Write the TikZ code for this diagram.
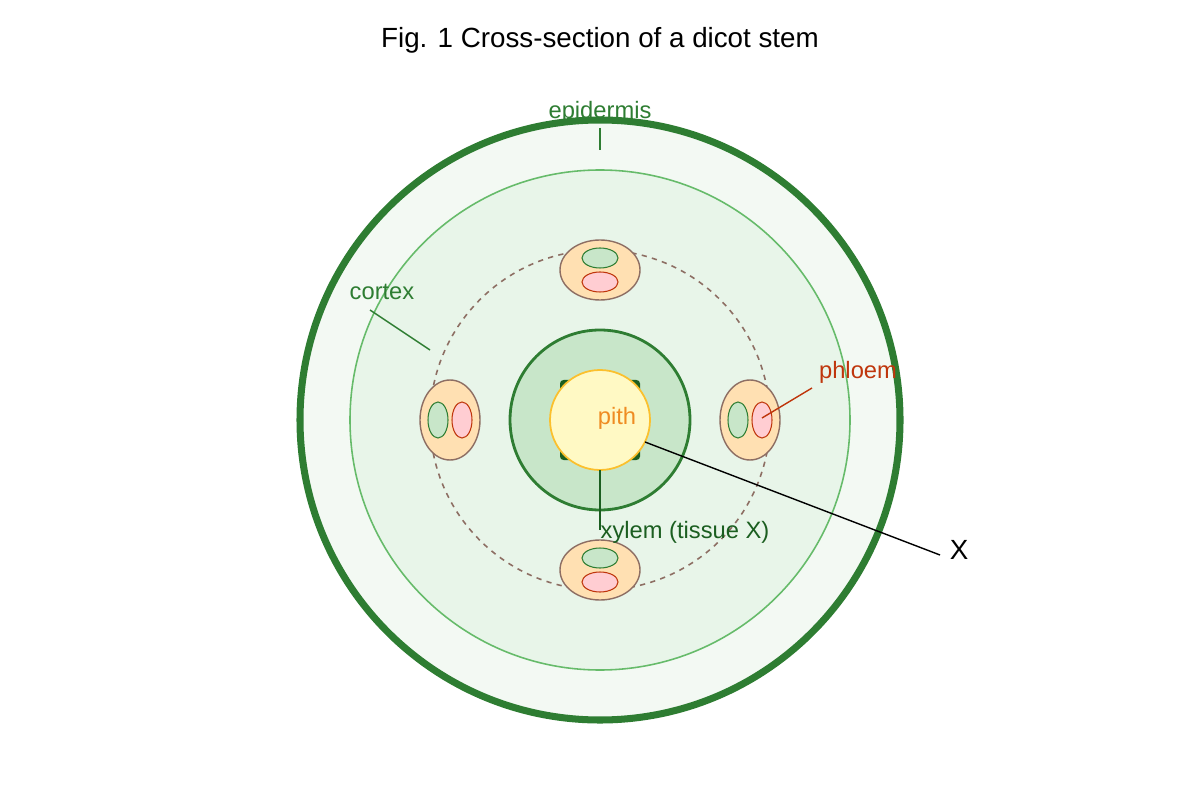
\documentclass[tikz,border=0pt]{standalone}
\usepackage{fontspec}
\setmainfont{Liberation Sans}
\usepackage{xcolor}
\definecolor{dkgreen}{HTML}{2E7D32}
\definecolor{ltgreen}{HTML}{66BB6A}
\definecolor{xylemgr}{HTML}{1B5E20}
\definecolor{epifill}{HTML}{F3F9F3}
\definecolor{corfill}{HTML}{E8F5E9}
\definecolor{stelefill}{HTML}{C8E6C9}
\definecolor{pithfill}{HTML}{FFF9C4}
\definecolor{pithdraw}{HTML}{FBC02D}
\definecolor{pithtext}{HTML}{EF8C22}
\definecolor{bundle}{HTML}{FFE0B2}
\definecolor{bundlebr}{HTML}{8D6E63}
\definecolor{phl}{HTML}{BF360C}
\definecolor{phlfill}{HTML}{FFCDD2}
\begin{document}
\begin{tikzpicture}[x=0.02cm,y=-0.02cm,
    lbl/.style={font=\fontsize{13.5}{16}\selectfont},
    vb/.style={fill=bundle,draw=bundlebr,line width=0.8pt},
    xy/.style={fill=stelefill,draw=dkgreen,line width=0.6pt},
    ph/.style={fill=phlfill,draw=phl,line width=0.6pt}]
        % rahmen
        \useasboundingbox (0,0) rectangle (1200,800);
        \node[font=\fontsize{15.8}{19}\selectfont] (title) at (600,40) {Fig. 1 Cross-section of a dicot stem};

        % epidermis und rinde
        \draw[line width=4pt,draw=dkgreen,fill=epifill] (600,420) circle (300);
        \draw[line width=0.9pt,draw=ltgreen,fill=corfill] (600,420) circle (250);
        \draw[dashed,line width=0.9pt,draw=bundlebr] (600,420) circle (170);

        % leitbuendel
        \foreach \bx/\by/\rx/\ry/\gx/\gy/\rrx/\rry in {600/270/40/30/600/258/600/282, 600/570/40/30/600/558/600/582,
            450/420/30/40/438/420/462/420, 750/420/30/40/738/420/762/420}{
            \draw[vb] (\bx,\by) ellipse [x radius=\rx, y radius=\ry];
            \ifnum\rx=40
                \draw[xy] (\gx,\gy) ellipse [x radius=18, y radius=10];
                \draw[ph] (\rrx,\rry) ellipse [x radius=18, y radius=10];
            \else
                \draw[xy] (\gx,\gy) ellipse [x radius=10, y radius=18];
                \draw[ph] (\rrx,\rry) ellipse [x radius=10, y radius=18];
            \fi
        }

        % zentrum
        \draw[line width=1.6pt,draw=dkgreen,fill=stelefill] (600,420) circle (90);
        \fill[xylemgr,rounded corners=2pt] (560,380) rectangle (640,460);
        \draw[line width=1pt,draw=pithdraw,fill=pithfill] (600,420) circle (50);
        \node[lbl,text=pithtext] (pith) at (617,418) {pith};

        % beschriftungen
        \node[lbl,text=dkgreen] (epi) at (600,112) {epidermis};
        \coordinate (epiA) at (600,128); \coordinate (epiB) at (600,150);
        \draw[dkgreen,line width=0.8pt] (epiA) -- (epiB);

        \node[lbl,text=dkgreen] (cortex) at (382,292) {cortex};
        \coordinate (corA) at (370,310); \coordinate (corB) at (430,350);
        \draw[dkgreen,line width=0.8pt] (corA) -- (corB);

        \node[lbl,text=phl] (phloem) at (858,372) {phloem};
        \coordinate (phA) at (812,388); \coordinate (phB) at (762,418);
        \draw[phl,line width=0.8pt] (phA) -- (phB);

        \node[lbl,text=xylemgr] (xylem) at (685,532) {xylem (tissue X)};
        \coordinate (xyA) at (600,470); \coordinate (xyB) at (600,530);
        \draw[xylemgr,line width=0.8pt] (xyA) -- (xyB);

        \node[font=\fontsize{15.8}{19}\selectfont] (X) at (959,550) {X};
        \coordinate (xA) at (645,442); \coordinate (xB) at (940,555);
        \draw[line width=0.8pt] (xA) -- (xB);
    \end{tikzpicture}
\end{document}
